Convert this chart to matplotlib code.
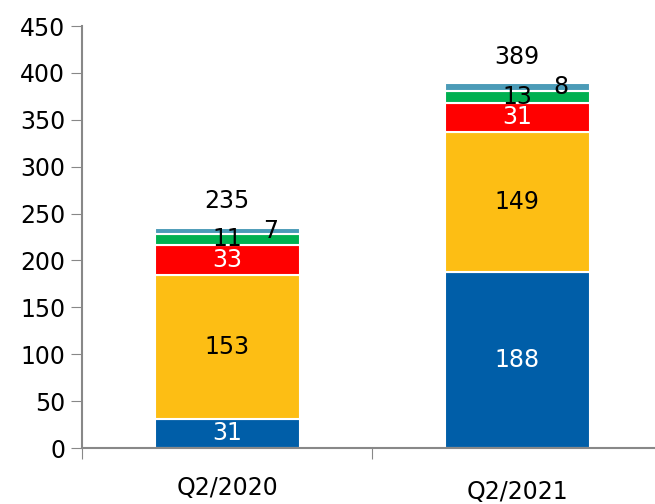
import numpy as np
import matplotlib.pyplot as plt

categories = ["Q2/2020", "Q2/2021"]
seg_blue = [31, 188]
seg_yellow = [153, 149]
seg_red = [33, 31]
seg_green = [11, 13]
seg_teal = [7, 8]
totals = [235, 389]

colors = ["#005EA8", "#FDBE14", "#FF0000", "#00B050", "#4B9BB7"]
label_colors = ["white", "black", "white", "black", "black"]

fig = plt.figure(figsize=(6.55, 5.04), dpi=100)
ax = fig.add_axes([82 / 655, 56 / 504, 580 / 655, 422 / 504])

x = np.arange(len(categories))
w = 0.5
series = [seg_blue, seg_yellow, seg_red, seg_green, seg_teal]
bottom = np.zeros(len(categories))
for vals, c, lc, k in zip(series, colors, label_colors, range(5)):
    vals = np.array(vals, dtype=float)
    ax.bar(x, vals, w, bottom=bottom, color=c, edgecolor="white", linewidth=1.5, zorder=2)
    for i in range(len(x)):
        cx = x[i] + (0.15 if k == 4 else 0)
        ax.text(cx, bottom[i] + vals[i] / 2, f"{int(vals[i])}", ha="center", va="center",
                color=lc, fontsize=17, zorder=3)
    bottom += vals

for i in range(len(x)):
    ax.text(x[i], totals[i] + 28, str(totals[i]), ha="center", va="center", fontsize=17)

ax.set_xlim(-0.5, 1.5)
ax.set_ylim(0, 450)
ax.set_yticks(np.arange(0, 451, 50))
ax.tick_params(axis="y", labelsize=17, length=8, color="#888888", pad=4)
ax.set_xticks([-0.5, 0.5, 1.5])
ax.set_xticklabels([])
ax.tick_params(axis="x", length=8, color="#888888")
for i, lab in enumerate(categories):
    ax.annotate(lab, xy=(x[i], 0), xytext=(0, -29 - 3 * i), textcoords="offset points",
                ha="center", va="center", fontsize=17, annotation_clip=False)

for s in ["top", "right"]:
    ax.spines[s].set_visible(False)
for s in ["left", "bottom"]:
    ax.spines[s].set_color("#888888")
    ax.spines[s].set_linewidth(1.5)

fig.savefig("out.png", dpi=100)
